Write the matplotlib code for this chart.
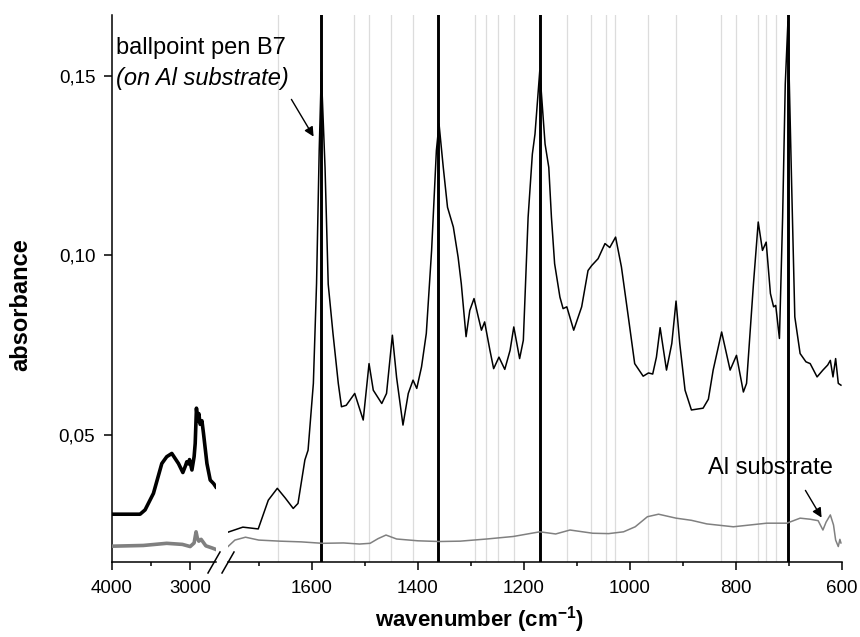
import numpy as np
import matplotlib
matplotlib.use("Agg")
import matplotlib.pyplot as plt
from matplotlib.lines import Line2D
from matplotlib.patches import FancyArrowPatch

plt.rcParams['font.family'] = ['Liberation Sans', 'DejaVu Sans']
plt.rcParams['mathtext.fontset'] = 'custom'
plt.rcParams['mathtext.rm'] = 'Liberation Sans'
plt.rcParams['mathtext.bf'] = 'Liberation Sans:bold'

# high wavenumber part (4000 - 2670 cm-1)
hi_wn = [4000, 3800, 3641, 3577, 3470, 3363, 3300, 3235, 3150, 3094, 3060, 3043,
         3020, 3009, 2978, 2950, 2936, 2920, 2905, 2890, 2872, 2850, 2830, 2786,
         2744, 2700, 2672]
hi_pen = [0.0280, 0.0280, 0.0280, 0.0292, 0.0338, 0.0421, 0.0440, 0.0449, 0.0421,
          0.0396, 0.0415, 0.0426, 0.0420, 0.0432, 0.0403, 0.0440, 0.0477, 0.0575,
          0.0540, 0.0560, 0.0530, 0.0540, 0.0505, 0.0421, 0.0375, 0.0365, 0.0356]
hi_al_wn = [4000, 3600, 3300, 3100, 3000, 2950, 2925, 2910, 2890, 2860, 2800, 2720, 2672]
hi_al = [0.0191, 0.0193, 0.0199, 0.0196, 0.0190, 0.0200, 0.0231, 0.0215, 0.0205,
         0.0210, 0.0192, 0.0186, 0.0182]

# fingerprint part (1758 - 600 cm-1)
lo_wn = [1758, 1730, 1701, 1682, 1665, 1650, 1635, 1626, 1613, 1607, 1597, 1591,
         1586, 1582, 1575, 1569, 1560, 1550, 1544, 1535, 1519, 1503, 1492, 1484,
         1468, 1459, 1448, 1440, 1428, 1418, 1409, 1402, 1393, 1384, 1374, 1365,
         1360, 1352, 1344, 1333, 1324, 1318, 1309, 1302, 1294, 1286, 1280, 1274,
         1264, 1257, 1247, 1236, 1226, 1219, 1208, 1201, 1192, 1184, 1179, 1170,
         1160, 1153, 1148, 1142, 1132, 1126, 1119, 1106, 1091, 1079, 1072, 1060,
         1047, 1038, 1027, 1016, 1003, 991, 975, 965, 957, 950, 943, 931, 921,
         913, 906, 896, 884, 862, 852, 843, 827, 811, 799, 786, 780, 767, 758,
         750, 743, 735, 729, 725, 718, 712, 707, 702, 695, 689, 679, 668, 660,
         647, 636, 627, 622, 617, 612, 607, 602]
lo_pen = [0.0230, 0.0244, 0.0239, 0.0319, 0.0352, 0.0325, 0.0296, 0.0310, 0.0431,
          0.0458, 0.0644, 0.0922, 0.1292, 0.1510, 0.1245, 0.0920, 0.0783, 0.0644,
          0.0579, 0.0583, 0.0616, 0.0542, 0.0699, 0.0625, 0.0588, 0.0616, 0.0778,
          0.0660, 0.0528, 0.0616, 0.0653, 0.0630, 0.0690, 0.0783, 0.1014, 0.1292,
          0.1366, 0.1245, 0.1134, 0.1079, 0.0995, 0.0921, 0.0774, 0.0847, 0.0880,
          0.0829, 0.0792, 0.0815, 0.0736, 0.0685, 0.0717, 0.0683, 0.0736, 0.0801,
          0.0713, 0.0764, 0.1106, 0.1282, 0.1338, 0.1514, 0.1310, 0.1245, 0.1106,
          0.0977, 0.0884, 0.0852, 0.0857, 0.0792, 0.0857, 0.0958, 0.0972, 0.0991,
          0.1033, 0.1022, 0.1051, 0.0968, 0.0829, 0.0699, 0.0664, 0.0673, 0.0670,
          0.0717, 0.0799, 0.0681, 0.0755, 0.0873, 0.0755, 0.0625, 0.0570, 0.0575,
          0.0600, 0.0681, 0.0787, 0.0681, 0.0722, 0.0620, 0.0644, 0.0921, 0.1093,
          0.1014, 0.1037, 0.0894, 0.0857, 0.0861, 0.0769, 0.1106, 0.1477, 0.1650,
          0.1199, 0.0829, 0.0727, 0.0704, 0.0699, 0.0662, 0.0681, 0.0695, 0.0708,
          0.0662, 0.0713, 0.0644, 0.0639]
lo_al_wn = [1758, 1745, 1725, 1700, 1660, 1620, 1580, 1540, 1510, 1490, 1475, 1460,
            1440, 1400, 1360, 1320, 1270, 1220, 1170, 1140, 1113, 1070, 1040, 1012,
            990, 967, 946, 913, 884, 855, 805, 742, 704, 679, 660, 645, 636, 630,
            622, 616, 612, 607, 604, 602]
lo_al = [0.0190, 0.0208, 0.0216, 0.0208, 0.0205, 0.0203, 0.0199, 0.0200, 0.0197,
         0.0199, 0.0212, 0.0222, 0.0211, 0.0206, 0.0204, 0.0205, 0.0211, 0.0218,
         0.0231, 0.0225, 0.0236, 0.0227, 0.0226, 0.0231, 0.0245, 0.0273, 0.0280,
         0.0269, 0.0263, 0.0253, 0.0245, 0.0255, 0.0255, 0.0269, 0.0266, 0.0262,
         0.0236, 0.0258, 0.0278, 0.0250, 0.0208, 0.0190, 0.0210, 0.0200]

main_bands = [1582, 1361, 1170, 702]
minor_bands = [1664, 1520, 1492, 1450, 1410, 1292, 1272, 1249, 1218, 1119, 1074,
               1045, 1028, 966, 913, 828, 799, 758, 743, 724]

W, H = 860, 637
fig = plt.figure(figsize=(W / 100, H / 100), dpi=100)

def fx(px):
    return px / W

def fy(py):
    return 1 - py / H

bot, top = fy(562), fy(15)
ax1 = fig.add_axes([fx(112), bot, fx(216) - fx(112), top - bot])
ax2 = fig.add_axes([fx(228), bot, fx(842) - fx(228), top - bot])

ylim = (0.0147, 0.1669)

ax1.plot(hi_al_wn, hi_al, color='#808080', lw=2.6, zorder=3)
ax1.plot(hi_wn, hi_pen, color='black', lw=2.6, zorder=3)
ax1.set_xlim(4000, 2670)
ax1.set_ylim(*ylim)
ax1.set_xticks([4000, 3000])
ax1.set_xticks([3500], minor=True)
ax1.set_yticks([0.05, 0.10, 0.15])
ax1.set_yticklabels(['0,05', '0,10', '0,15'])
for s in ['top', 'right']:
    ax1.spines[s].set_visible(False)

for x in minor_bands:
    ax2.axvline(x, color='#dcdcdc', lw=0.9, zorder=1)
for x in main_bands:
    ax2.axvline(x, color='black', lw=2.1, zorder=2)
ax2.plot(lo_al_wn, lo_al, color='#808080', lw=1.1, zorder=3)
ax2.plot(lo_wn, lo_pen, color='black', lw=1.1, zorder=3)
ax2.set_xlim(1758, 600)
ax2.set_ylim(*ylim)
ax2.set_xticks([1600, 1400, 1200, 1000, 800, 600])
ax2.set_xticks([1700, 1500, 1300, 1100, 900, 700], minor=True)
ax2.set_yticks([])
for s in ['top', 'right', 'left']:
    ax2.spines[s].set_visible(False)

for ax in (ax1, ax2):
    ax.tick_params(which='major', length=6, direction='out', width=1.1, labelsize=13.5)
    ax.tick_params(which='minor', length=3, direction='out', width=1.1)
    ax.tick_params(axis='x', pad=7)
    ax.tick_params(axis='y', pad=6)
    for s in ax.spines.values():
        s.set_linewidth(1.1)

# axis break marks
for x0 in (208, 222):
    fig.add_artist(Line2D([fx(x0), fx(x0 + 12)], [fy(573), fy(552)],
                          color='black', lw=1.1))

fig.text(fx(21), fy(305), 'absorbance', rotation=90, ha='center', va='center',
         fontsize=17, fontweight='bold')
fig.text(fx(479), fy(620), r'wavenumber (cm$^{\mathbf{-1}}$)', ha='center',
         va='center', fontsize=16, fontweight='bold')

fig.text(fx(116), fy(48), 'ballpoint pen B7', ha='left', va='center', fontsize=17)
fig.text(fx(116), fy(78), '(on Al substrate)', ha='left', va='center',
         fontsize=17, style='italic')
fig.text(fx(708), fy(468), 'Al substrate', ha='left', va='center', fontsize=17)

arrow_kw = dict(arrowstyle='-|>', color='black', lw=1.0, mutation_scale=14)
fig.add_artist(FancyArrowPatch((fx(290), fy(97)), (fx(315), fy(139)),
                               transform=fig.transFigure, **arrow_kw))
fig.add_artist(FancyArrowPatch((fx(804), fy(488)), (fx(823), fy(520)),
                               transform=fig.transFigure, **arrow_kw))

fig.savefig('out.png', dpi=100)
